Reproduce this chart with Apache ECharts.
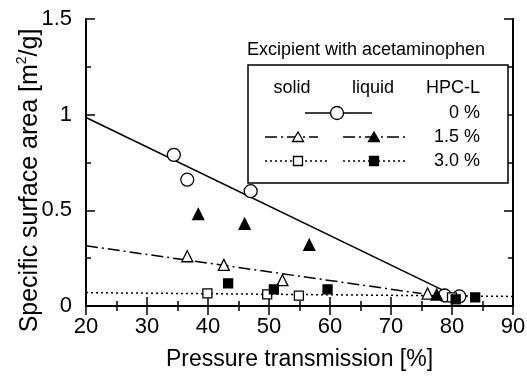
<!DOCTYPE html>
<html>
<head>
<meta charset="utf-8">
<script src="https://cdn.jsdelivr.net/npm/echarts@6/dist/echarts.min.js"></script>
<style>html,body{margin:0;padding:0;background:#fff;}#c{width:527px;height:380px;}</style>
</head>
<body>
<div id="c"></div>
<script>
// ---- data ----
const xTicks = [20, 30, 40, 50, 60, 70, 80, 90];
const yTicks = [0, 0.5, 1, 1.5];
const solid0 = [[34.4,0.79],[36.6,0.66],[47.0,0.60],[78.8,0.055],[81.2,0.05]];
const solid15 = [[36.6,0.26],[42.6,0.215],[52.2,0.135],[76.0,0.065]];
const liquid15 = [[38.4,0.48],[46.0,0.43],[56.6,0.32],[77.5,0.06]];
const solid30 = [[39.9,0.066],[49.7,0.061],[54.9,0.054],[80.0,0.045]];
const liquid30 = [[43.3,0.118],[50.8,0.087],[59.6,0.087],[80.6,0.035],[83.8,0.045]];
const fit0 = [[20,0.985],[79,0.075]];
const fit15 = [[20,0.315],[75,0.065]];
const fit30 = [[20,0.07],[90,0.05]];
const legendTitle = 'Excipient with acetaminophen';
const legendHeads = ['solid', 'liquid', 'HPC-L'];
const legendRows = ['0 %', '1.5 %', '3.0 %'];

const FONT = '"Liberation Sans", Arial, Helvetica, sans-serif';
const chart = echarts.init(document.getElementById('c'), null, {renderer: 'canvas'});

function axisCommon(show, margin) {
  return {
    axisLine: {show: true, lineStyle: {color: '#000', width: 2}},
    axisTick: {show: true, inside: true, length: 9, lineStyle: {color: '#000', width: 1.5}},
    minorTick: {show: true, splitNumber: 2, length: 5, lineStyle: {color: '#000', width: 1.5}},
    splitLine: {show: false},
    axisLabel: {show: show, color: '#000', fontSize: 22, fontFamily: FONT, margin: margin || 8}
  };
}

const DASHDOT = [12, 4, 2, 4];
const DOT = [2, 3];

function lineSeries(data, type) {
  return {type: 'line', data: data, symbol: 'none', silent: true, z: 2,
    lineStyle: {color: '#000', width: 1.5, type: type}};
}
function scatter(data, symbol, size, filled) {
  return {type: 'scatter', data: data, symbol: symbol, symbolSize: size, z: 5, silent: true,
    itemStyle: {color: filled ? '#000' : '#fff', borderColor: '#000', borderWidth: 1.3, opacity: 1}};
}

// legend graphics (box drawn on top of plot)
const g = [];
const LX = 248, LY = 65, LW = 260, LH = 118;
g.push({type: 'rect', shape: {x: LX, y: LY, width: LW, height: LH}, style: {fill: '#fff', stroke: '#000', lineWidth: 1.5}, z: 100});
g.push({type: 'text', x: 366, y: 50, style: {text: legendTitle, fontSize: 18, fontFamily: FONT, fill: '#000', align: 'center', verticalAlign: 'middle'}, z: 101});
const headX = [292, 373, 480];
const headAlign = ['center', 'center', 'right'];
legendHeads.forEach((t, i) => g.push({type: 'text', x: headX[i], y: 88, style: {text: t, fontSize: 18, fontFamily: FONT, fill: '#000', align: headAlign[i], verticalAlign: 'middle'}, z: 101}));
const rowY = [113, 137, 161];
legendRows.forEach((t, i) => g.push({type: 'text', x: 480, y: rowY[i], style: {text: t, fontSize: 18, fontFamily: FONT, fill: '#000', align: 'right', verticalAlign: 'middle'}, z: 101}));
function seg(x1, x2, y, dash) {
  g.push({type: 'line', shape: {x1: x1, y1: y, x2: x2, y2: y}, style: {stroke: '#000', lineWidth: 1.5, lineDash: dash || null}, z: 101});
}
function circ(x, y) { g.push({type: 'circle', shape: {cx: x, cy: y, r: 6.5}, style: {fill: '#fff', stroke: '#000', lineWidth: 1.3}, z: 102}); }
function tri(x, y, filled) { g.push({type: 'polygon', shape: {points: [[x, y - 5], [x + 5.5, y + 4.5], [x - 5.5, y + 4.5]]}, style: {fill: filled ? '#000' : '#fff', stroke: '#000', lineWidth: 1.3}, z: 102}); }
function sq(x, y, filled) { g.push({type: 'rect', shape: {x: x - 4.5, y: y - 4.5, width: 9, height: 9}, style: {fill: filled ? '#000' : '#fff', stroke: '#000', lineWidth: 1.3}, z: 102}); }
seg(305, 372, rowY[0]); circ(337, rowY[0]);
seg(265, 318, rowY[1], DASHDOT); tri(298, rowY[1], false);
seg(343, 406, rowY[1], DASHDOT); tri(374, rowY[1], true);
seg(265, 327, rowY[2], DOT); sq(298, rowY[2], false);
seg(343, 407, rowY[2], DOT); sq(374, rowY[2], true);

const option = {
  animation: false,
  backgroundColor: '#fff',
  textStyle: {fontFamily: FONT},
  grid: {left: 86, right: 14, top: 19, bottom: 74, containLabel: false, outerBoundsMode: 'none'},
  xAxis: [
    Object.assign({type: 'value', position: 'bottom', min: xTicks[0], max: xTicks[xTicks.length - 1], interval: 10,
      name: 'Pressure transmission [%]', nameLocation: 'middle', nameGap: 42, nameMoveOverlap: false,
      nameTextStyle: {color: '#000', fontSize: 23, fontFamily: FONT}}, axisCommon(true, 10)),
    Object.assign({type: 'value', position: 'top', min: xTicks[0], max: xTicks[xTicks.length - 1], interval: 10}, axisCommon(false))
  ],
  yAxis: [
    Object.assign({type: 'value', position: 'left', min: yTicks[0], max: yTicks[yTicks.length - 1], interval: 0.5,
      name: 'Specific surface area [m{sup|2}/g]', nameLocation: 'middle', nameGap: 41, nameMoveOverlap: false,
      nameTextStyle: {color: '#000', fontSize: 25, fontFamily: FONT, padding: [0, 36, 0, 0],
        rich: {sup: {fontSize: 14, fontFamily: FONT, color: '#000', padding: [0, 0, 16, 0]}}}}, axisCommon(true, 14)),
    Object.assign({type: 'value', position: 'right', min: yTicks[0], max: yTicks[yTicks.length - 1], interval: 0.5}, axisCommon(false))
  ],
  series: [
    lineSeries(fit0, 'solid'),
    lineSeries(fit15, DASHDOT),
    lineSeries(fit30, DOT),
    scatter(solid0, 'circle', 13, false),
    scatter(solid15, 'triangle', 11, false),
    scatter(liquid15, 'triangle', 11, true),
    scatter(solid30, 'rect', 9, false),
    scatter(liquid30, 'rect', 9, true)
  ],
  graphic: g
};
chart.setOption(option);
</script>
</body>
</html>
